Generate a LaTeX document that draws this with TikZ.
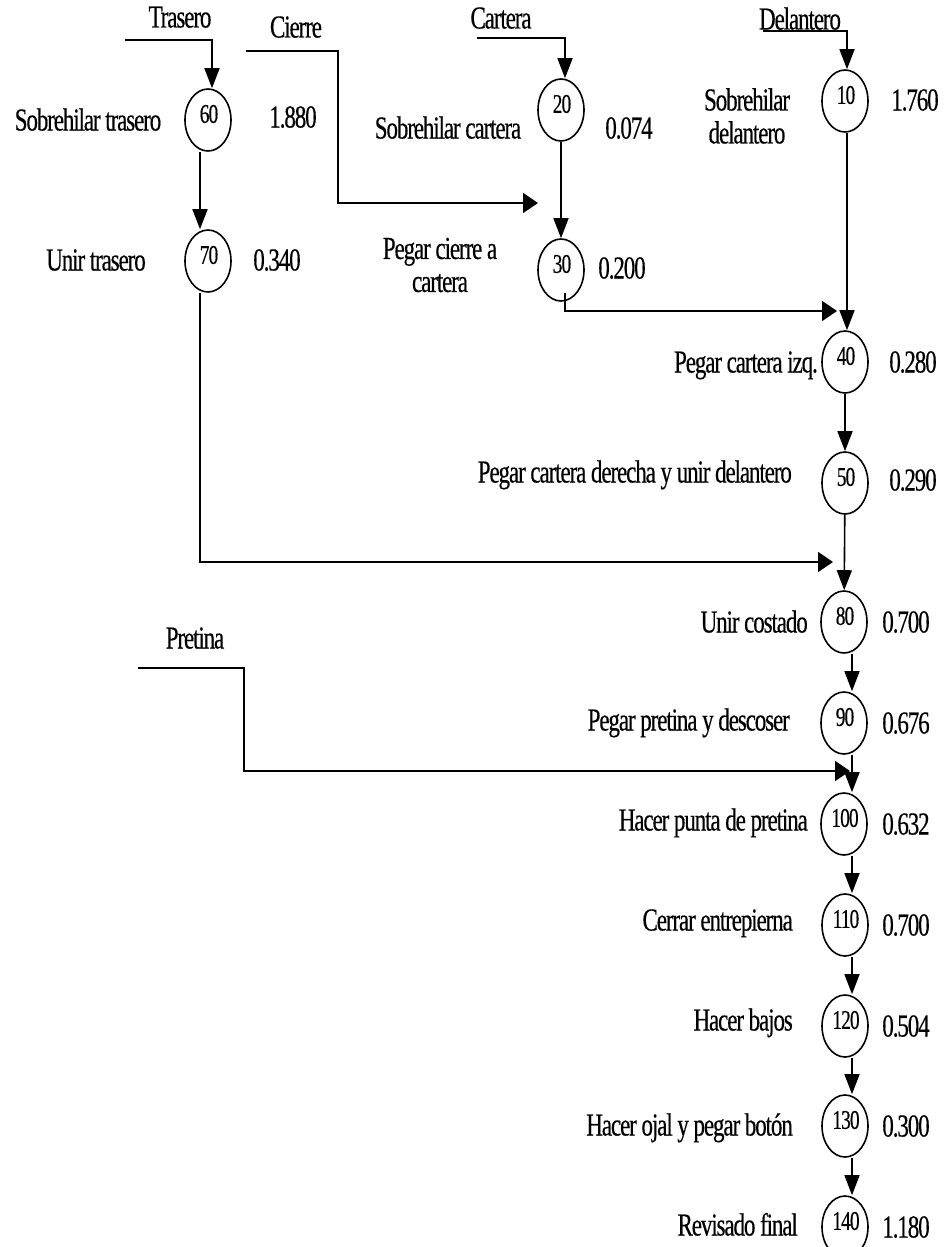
\documentclass[tikz,border=0pt]{standalone}
\usepackage{fontspec}
\setmainfont{Liberation Serif}[FakeStretch=0.72,LetterSpace=-3.5,FakeBold=0.4]
\usetikzlibrary{arrows.meta,shapes.geometric}
\begin{document}
\begin{tikzpicture}[x=1pt,y=-1pt,
  op/.style={draw,ellipse,line width=1.6pt,minimum width=46pt,minimum height=62pt,inner sep=0pt},
  num/.style={font=\fontsize{27}{29}\selectfont,inner sep=0pt,yshift=6pt,xshift=1pt},
  lbl/.style={font=\fontsize{32}{36}\selectfont,inner sep=0pt,text height=21pt,text depth=0pt},
  two/.style={font=\fontsize{32}{33}\selectfont,inner sep=0pt,align=center},
  vflow/.style={line width=1.6pt,-{Triangle[width=15pt,length=20pt]}},
  hflow/.style={line width=1.6pt,-{Triangle[width=20pt,length=15pt]}},
  line join=miter]
\useasboundingbox (0,0) rectangle (943,1247);

% operations
\node[op,label={[num]center:60}] (n60) at (208,120) {};
\node[op,label={[num]center:70}] (n70) at (208,261) {};
\node[op,label={[num]center:20}] (n20) at (561,110) {};
\node[op,label={[num]center:30}] (n30) at (561,270) {};
\node[op,label={[num]center:10}] (n10) at (845,101) {};
\node[op,label={[num]center:40}] (n40) at (845,362) {};
\node[op,label={[num]center:50}] (n50) at (845,483) {};
\node[op,label={[num]center:80}] (n80) at (844,622) {};
\node[op,label={[num]center:90}] (n90) at (844,723) {};
\node[op,label={[num]center:100}] (n100) at (844,824) {};
\node[op,label={[num]center:110}] (n110) at (845,925) {};
\node[op,label={[num]center:120}] (n120) at (845,1026) {};
\node[op,label={[num]center:130}] (n130) at (845,1126) {};
\node[op,label={[num]center:140}] (n140) at (845,1227) {};

% material inputs
\node[lbl] (tTrasero) at (180,17) {Trasero};
\node[lbl] (tCierre) at (296,27) {Cierre};
\node[lbl] (tCartera) at (501,18) {Cartera};
\node[lbl] (tDelantero) at (800,19) {Delantero};
\node[lbl] (tPretina) at (195,638) {Pretina};

% operation names
\node[lbl] (d60) at (88,120) {Sobrehilar trasero};
\node[lbl] (d70) at (96,260) {Unir trasero};
\node[lbl] (d20) at (448,128) {Sobrehilar cartera};
\node[two] (d30) at (440,265) {Pegar cierre a\\cartera};
\node[two] (d10) at (747,116) {Sobrehilar\\delantero};
\node[lbl,anchor=east] (d40) at (818,362) {Pegar cartera izq.};
\node[lbl,anchor=east] (d50) at (792,472) {Pegar cartera derecha y unir delantero};
\node[lbl,anchor=east] (d80) at (808,622) {Unir costado};
\node[lbl,anchor=east] (d90) at (790,720) {Pegar pretina y descoser};
\node[lbl,anchor=east] (d100) at (808,820) {Hacer punta de pretina};
\node[lbl,anchor=east] (d110) at (793,920) {Cerrar entrepierna};
\node[lbl,anchor=east] (d120) at (793,1020) {Hacer bajos};
\node[lbl,anchor=east] (d130) at (793,1125) {Hacer ojal y pegar botón};
\node[lbl,anchor=east] (d140) at (798,1225) {Revisado final};

% standard times
\node[lbl] (s60) at (293,117) {1.880};
\node[lbl] (s70) at (277,260) {0.340};
\node[lbl] (s20) at (629,128) {0.074};
\node[lbl] (s30) at (622,268) {0.200};
\node[lbl] (s10) at (915,100) {1.760};
\node[lbl] (s40) at (913,362) {0.280};
\node[lbl] (s50) at (913,480) {0.290};
\node[lbl] (s80) at (906,622) {0.700};
\node[lbl] (s90) at (906,723) {0.676};
\node[lbl] (s100) at (906,824) {0.632};
\node[lbl] (s110) at (906,925) {0.700};
\node[lbl] (s120) at (906,1026) {0.504};
\node[lbl] (s130) at (906,1126) {0.300};
\node[lbl] (s140) at (906,1227) {1.180};

% line start and end points
\coordinate (tr0) at (125,40);
\coordinate (ci0) at (246,51);
\coordinate (ci1) at (538,203);
\coordinate (ca0) at (477,38);
\coordinate (de0) at (763,31);
\coordinate (c30) at (837,311);
\coordinate (c70) at (833,562);
\coordinate (pr0) at (138,668);
\coordinate (pr1) at (850,771);

% flows
\draw[vflow] (tr0) -| ([xshift=4pt]n60.north);
\draw[vflow] ([xshift=-8pt]n60.south) -- ([xshift=-8pt]n70.north);
\draw[hflow] (ci0) -- ++(92,0) |- (ci1);
\draw[vflow] (ca0) -| ([xshift=4pt]n20.north);
\draw[vflow] (n20) -- (n30);
\draw[vflow] (de0) -| ([xshift=2pt]n10.north);
\draw[vflow] ([xshift=2pt]n10.south) -- ([xshift=2pt]n40.north);
\draw[hflow] ([xshift=4pt,yshift=9pt]n30.south) |- (c30);
\draw[vflow] (n40) -- (n50);
\draw[vflow] (n50) -- (n80);
\draw[hflow] ([xshift=-8pt]n70.south) |- (c70);
\draw[vflow] ([xshift=8pt]n80.south) -- ([xshift=8pt]n90.north);
\draw[hflow] (pr0) -- ++(106,0) |- (pr1);
\draw[vflow] ([xshift=8pt]n90.south) -- ([xshift=8pt]n100.north);
\draw[vflow] ([xshift=8pt]n100.south) -- ([xshift=7pt]n110.north);
\draw[vflow] ([xshift=7pt]n110.south) -- ([xshift=7pt]n120.north);
\draw[vflow] ([xshift=7pt]n120.south) -- ([xshift=7pt]n130.north);
\draw[vflow] ([xshift=7pt]n130.south) -- ([xshift=7pt]n140.north);
\end{tikzpicture}
\end{document}
